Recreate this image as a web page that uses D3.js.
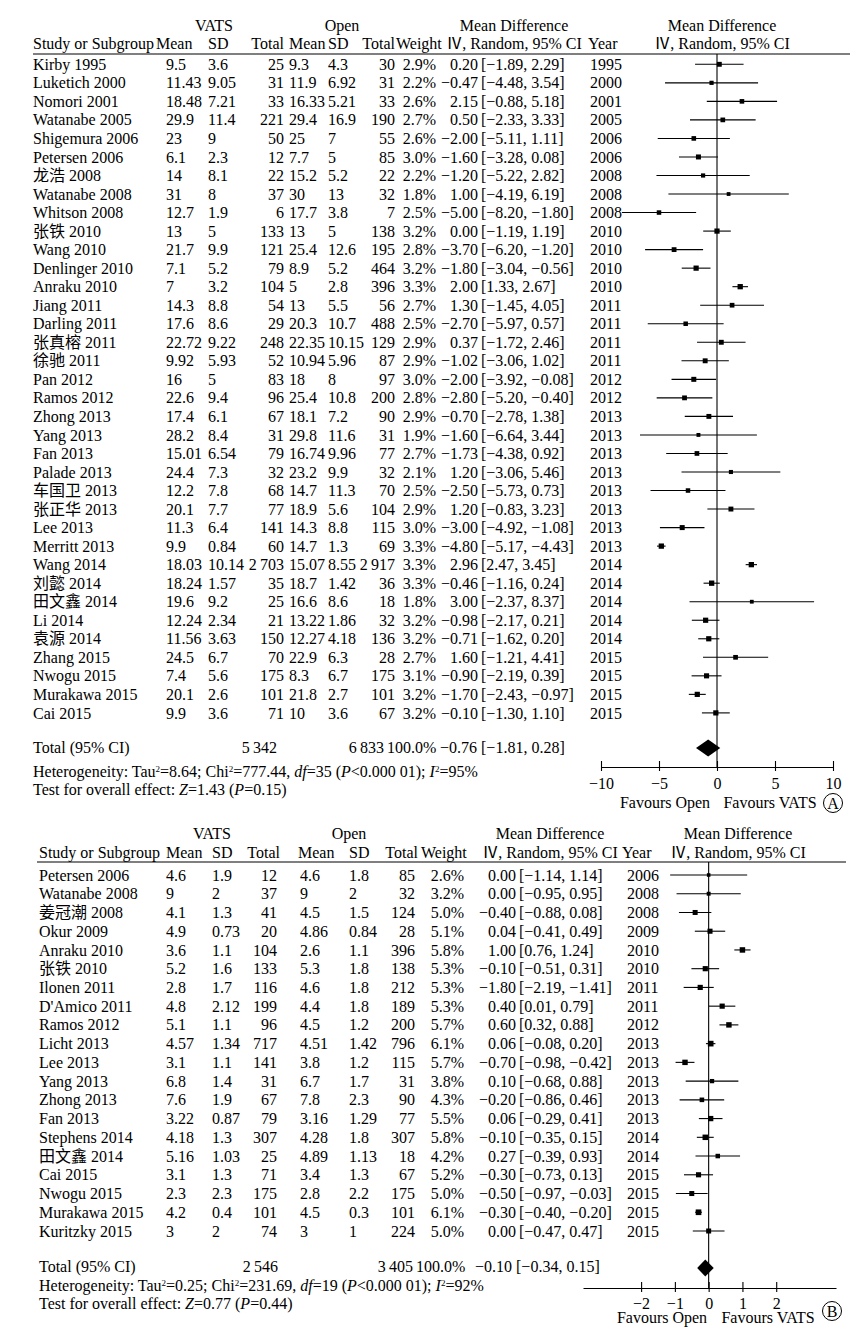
<!DOCTYPE html>
<html><head><meta charset="utf-8">
<script src="https://cdn.jsdelivr.net/npm/d3@7"></script>
<style>
body{margin:0;background:#fff}
text{font-family:"Liberation Serif","Noto Sans CJK SC",serif;font-size:16px;fill:#000}
</style>
</head><body>
<svg id="chart" width="857" height="1338"></svg>
<script>
// ---------------- Panel A data ----------------
const studiesA = ["Kirby 1995","Luketich 2000","Nomori 2001","Watanabe 2005","Shigemura 2006","Petersen 2006","龙浩 2008","Watanabe 2008","Whitson 2008","张铁 2010","Wang 2010","Denlinger 2010","Anraku 2010","Jiang 2011","Darling 2011","张真榕 2011","徐驰 2011","Pan 2012","Ramos 2012","Zhong 2013","Yang 2013","Fan 2013","Palade 2013","车国卫 2013","张正华 2013","Lee 2013","Merritt 2013","Wang 2014","刘懿 2014","田文鑫 2014","Li 2014","袁源 2014","Zhang 2015","Nwogu 2015","Murakawa 2015","Cai 2015"];
const vatsMeanA = [9.5,11.43,18.48,29.9,23,6.1,14,31,12.7,13,21.7,7.1,7,14.3,17.6,22.72,9.92,16,22.6,17.4,28.2,15.01,24.4,12.2,20.1,11.3,9.9,18.03,18.24,19.6,12.24,11.56,24.5,7.4,20.1,9.9];
const vatsSdA = [3.6,9.05,7.21,11.4,9,2.3,8.1,8,1.9,5,9.9,5.2,3.2,8.8,8.6,9.22,5.93,5,9.4,6.1,8.4,6.54,7.3,7.8,7.7,6.4,0.84,10.14,1.57,9.2,2.34,3.63,6.7,5.6,2.6,3.6];
const vatsTotalA = [25,31,33,221,50,12,22,37,6,133,121,79,104,54,29,248,52,83,96,67,31,79,32,68,77,141,60,2703,35,25,21,150,70,175,101,71];
const openMeanA = [9.3,11.9,16.33,29.4,25,7.7,15.2,30,17.7,13,25.4,8.9,5,13,20.3,22.35,10.94,18,25.4,18.1,29.8,16.74,23.2,14.7,18.9,14.3,14.7,15.07,18.7,16.6,13.22,12.27,22.9,8.3,21.8,10];
const openSdA = [4.3,6.92,5.21,16.9,7,5,5.2,13,3.8,5,12.6,5.2,2.8,5.5,10.7,10.15,5.96,8,10.8,7.2,11.6,9.96,9.9,11.3,5.6,8.8,1.3,8.55,1.42,8.6,1.86,4.18,6.3,6.7,2.7,3.6];
const openTotalA = [30,31,33,190,55,85,22,32,7,138,195,464,396,56,488,129,87,97,200,90,31,77,32,70,104,115,69,2917,36,18,32,136,28,175,101,67];
const weightA = [2.9,2.2,2.6,2.7,2.6,3.0,2.2,1.8,2.5,3.2,2.8,3.2,3.3,2.7,2.5,2.9,2.9,3.0,2.8,2.9,1.9,2.7,2.1,2.5,2.9,3.0,3.3,3.3,3.3,1.8,3.2,3.2,2.7,3.1,3.2,3.2];
const mdA = [0.20,-0.47,2.15,0.50,-2.00,-1.60,-1.20,1.00,-5.00,0.00,-3.70,-1.80,2.00,1.30,-2.70,0.37,-1.02,-2.00,-2.80,-0.70,-1.60,-1.73,1.20,-2.50,1.20,-3.00,-4.80,2.96,-0.46,3.00,-0.98,-0.71,1.60,-0.90,-1.70,-0.10];
const loA = [-1.89,-4.48,-0.88,-2.33,-5.11,-3.28,-5.22,-4.19,-8.20,-1.19,-6.20,-3.04,1.33,-1.45,-5.97,-1.72,-3.06,-3.92,-5.20,-2.78,-6.64,-4.38,-3.06,-5.73,-0.83,-4.92,-5.17,2.47,-1.16,-2.37,-2.17,-1.62,-1.21,-2.19,-2.43,-1.30];
const hiA = [2.29,3.54,5.18,3.33,1.11,0.08,2.82,6.19,-1.80,1.19,-1.20,-0.56,2.67,4.05,0.57,2.46,1.02,-0.08,-0.40,1.38,3.44,0.92,5.46,0.73,3.23,-1.08,-4.43,3.45,0.24,8.37,0.21,0.20,4.41,0.39,-0.97,1.10];
const yearA = [1995,2000,2001,2005,2006,2006,2008,2008,2008,2010,2010,2010,2010,2011,2011,2011,2011,2012,2012,2013,2013,2013,2013,2013,2013,2013,2013,2014,2014,2014,2014,2014,2015,2015,2015,2015];
const totalA = {vats:5342, open:6833, weight:100.0, md:-0.76, lo:-1.81, hi:0.28};
const hetA = ["8.64","777.44","35","0.000 01","95"];
const testA = ["1.43","0.15"];
const ticksA = [-10,-5,0,5,10];

// ---------------- Panel B data ----------------
const studiesB = ["Petersen 2006","Watanabe 2008","姜冠潮 2008","Okur 2009","Anraku 2010","张铁 2010","Ilonen 2011","D'Amico 2011","Ramos 2012","Licht 2013","Lee 2013","Yang 2013","Zhong 2013","Fan 2013","Stephens 2014","田文鑫 2014","Cai 2015","Nwogu 2015","Murakawa 2015","Kuritzky 2015"];
const vatsMeanB = [4.6,9,4.1,4.9,3.6,5.2,2.8,4.8,5.1,4.57,3.1,6.8,7.6,3.22,4.18,5.16,3.1,2.3,4.2,3];
const vatsSdB = [1.9,2,1.3,0.73,1.1,1.6,1.7,2.12,1.1,1.34,1.1,1.4,1.9,0.87,1.3,1.03,1.3,2.3,0.4,2];
const vatsTotalB = [12,37,41,20,104,133,116,199,96,717,141,31,67,79,307,25,71,175,101,74];
const openMeanB = [4.6,9,4.5,4.86,2.6,5.3,4.6,4.4,4.5,4.51,3.8,6.7,7.8,3.16,4.28,4.89,3.4,2.8,4.5,3];
const openSdB = [1.8,2,1.5,0.84,1.1,1.8,1.8,1.8,1.2,1.42,1.2,1.7,2.3,1.29,1.8,1.13,1.3,2.2,0.3,1];
const openTotalB = [85,32,124,28,396,138,212,189,200,796,115,31,90,77,307,18,67,175,101,224];
const weightB = [2.6,3.2,5.0,5.1,5.8,5.3,5.3,5.3,5.7,6.1,5.7,3.8,4.3,5.5,5.8,4.2,5.2,5.0,6.1,5.0];
const mdB = [0.00,0.00,-0.40,0.04,1.00,-0.10,-1.80,0.40,0.60,0.06,-0.70,0.10,-0.20,0.06,-0.10,0.27,-0.30,-0.50,-0.30,0.00];
const loB = [-1.14,-0.95,-0.88,-0.41,0.76,-0.51,-2.19,0.01,0.32,-0.08,-0.98,-0.68,-0.86,-0.29,-0.35,-0.39,-0.73,-0.97,-0.40,-0.47];
const hiB = [1.14,0.95,0.08,0.49,1.24,0.31,-1.41,0.79,0.88,0.20,-0.42,0.88,0.46,0.41,0.15,0.93,0.13,-0.03,-0.20,0.47];
// values as drawn in the plot (the Ilonen mark in the picture sits near zero)
const markMdB = [0.00,0.00,-0.40,0.04,1.00,-0.10,-0.25,0.40,0.60,0.06,-0.70,0.10,-0.20,0.06,-0.10,0.27,-0.30,-0.50,-0.30,0.00];
const markLoB = [-1.14,-0.95,-0.88,-0.41,0.76,-0.51,-0.74,0.01,0.32,-0.08,-0.98,-0.68,-0.86,-0.29,-0.35,-0.39,-0.73,-0.97,-0.40,-0.47];
const markHiB = [1.14,0.95,0.08,0.49,1.24,0.31,0.15,0.79,0.88,0.20,-0.42,0.88,0.46,0.41,0.15,0.93,0.13,-0.03,-0.20,0.47];
const yearB = [2006,2008,2008,2009,2010,2010,2011,2011,2012,2013,2013,2013,2013,2013,2014,2014,2015,2015,2015,2015];
const totalB = {vats:2546, open:3405, weight:100.0, md:-0.10, lo:-0.34, hi:0.15};
const hetB = ["0.25","231.69","19","0.000 01","92"];
const testB = ["0.77","0.44"];
const ticksB = [-2,-1,0,1,2];

// ---------------- helpers ----------------
const svg = d3.select("#chart");
const minus = s => s.replace(/-/g, "\u2212");
const f2 = v => minus(v.toFixed(2));
const fTot = v => v >= 1000 ? Math.floor(v / 1000) + "\u2009" + String(v % 1000).padStart(3, "0") : String(v);
const fNum = v => String(v);

function txt(g, x, y, s, anchor) {
  return g.append("text").attr("x", x).attr("y", y).attr("dy", "0.35em")
    .attr("text-anchor", anchor || "start").text(s);
}

function column(g, n, y, x, anchor, fmt) {
  g.selectAll(null).data(d3.range(n)).join("text")
    .attr("x", x).attr("y", i => y(i)).attr("dy", "0.35em")
    .attr("text-anchor", anchor).text(fmt);
}

function statLines(g, x, y1, y2, het, test) {
  const sup = (t, s) => t.append("tspan").attr("baseline-shift", "super").attr("font-size", "9px").text(s);
  const t = g.append("text").attr("x", x).attr("y", y1).attr("dy", "0.35em");
  t.append("tspan").text("Heterogeneity: Tau");
  sup(t, "2");
  t.append("tspan").text("=" + het[0] + "; Chi");
  sup(t, "2");
  t.append("tspan").text("=" + het[1] + ", ");
  t.append("tspan").attr("font-style", "italic").text("df");
  t.append("tspan").text("=" + het[2] + " (");
  t.append("tspan").attr("font-style", "italic").text("P");
  t.append("tspan").text("<" + het[3] + "); ");
  t.append("tspan").attr("font-style", "italic").text("I");
  sup(t, "2");
  t.append("tspan").text("=" + het[4] + "%");
  const u = g.append("text").attr("x", x).attr("y", y2).attr("dy", "0.35em");
  u.append("tspan").text("Test for overall effect: ");
  u.append("tspan").attr("font-style", "italic").text("Z");
  u.append("tspan").text("=" + test[0] + " (");
  u.append("tspan").attr("font-style", "italic").text("P");
  u.append("tspan").text("=" + test[1] + ")");
}

function panel(cfg) {
  const g = svg.append("g");
  const n = cfg.studies.length;
  const y = d3.scaleLinear().domain([0, n - 1]).range([cfg.rowTop, cfg.rowBottom]);
  const x = d3.scaleLinear().domain(cfg.domain).range(cfg.range);
  const c = cfg.cols, h = cfg.head;

  // headers
  txt(g, h.vats, cfg.h1, "VATS", "middle");
  txt(g, h.open, cfg.h1, "Open", "middle");
  txt(g, h.md1, cfg.h1, "Mean Difference", "middle");
  txt(g, h.md2, cfg.h1, "Mean Difference", "middle");
  txt(g, h.study, cfg.h2, "Study or Subgroup");
  txt(g, h.vMean, cfg.h2, "Mean");
  txt(g, h.vSd, cfg.h2, "SD");
  txt(g, h.vTot, cfg.h2, "Total", "end");
  txt(g, h.oMean, cfg.h2, "Mean");
  txt(g, h.oSd, cfg.h2, "SD");
  txt(g, h.oTot, cfg.h2, "Total", "end");
  txt(g, h.weight, cfg.h2, "Weight");
  txt(g, h.md1, cfg.h2, "\u2163, Random, 95% CI", "middle");
  txt(g, h.year, cfg.h2, "Year");
  txt(g, h.md2, cfg.h2, "\u2163, Random, 95% CI", "middle");
  g.append("line").attr("x1", cfg.lineL).attr("x2", cfg.lineR)
    .attr("y1", cfg.hLine).attr("y2", cfg.hLine).attr("stroke", "#000").attr("stroke-width", 1.2);

  // table columns
  column(g, n, y, c.study, "start", i => cfg.studies[i]);
  column(g, n, y, c.vMean, "start", i => fNum(cfg.vMean[i]));
  column(g, n, y, c.vSd, "start", i => fNum(cfg.vSd[i]));
  column(g, n, y, c.vTot, "end", i => fTot(cfg.vTot[i]));
  column(g, n, y, c.oMean, "start", i => fNum(cfg.oMean[i]));
  column(g, n, y, c.oSd, "start", i => fNum(cfg.oSd[i]));
  column(g, n, y, c.oTot, "end", i => fTot(cfg.oTot[i]));
  column(g, n, y, c.weight, "end", i => cfg.weight[i].toFixed(1) + "%");
  column(g, n, y, c.md, "end", i => f2(cfg.md[i]));
  column(g, n, y, c.ci, "start", i => "[" + f2(cfg.lo[i]) + ", " + f2(cfg.hi[i]) + "]");
  column(g, n, y, c.year, "start", i => String(cfg.year[i]));

  // total row
  const T = cfg.total;
  txt(g, c.study, cfg.totY, "Total (95% CI)");
  txt(g, c.tvTot, cfg.totY, fTot(T.vats), "end");
  txt(g, c.toTot, cfg.totY, fTot(T.open), "end");
  txt(g, c.tWeight, cfg.totY, T.weight.toFixed(1) + "%", "start");
  txt(g, c.tMd, cfg.totY, f2(T.md) + " [" + f2(T.lo) + ", " + f2(T.hi) + "]", "start");
  statLines(g, c.study, cfg.hetY, cfg.testY, cfg.het, cfg.test);

  // forest
  g.append("line").attr("x1", x(0)).attr("x2", x(0)).attr("y1", cfg.hLine).attr("y2", cfg.axisY)
    .attr("stroke", "#000").attr("stroke-width", 1.1);
  g.selectAll(null).data(d3.range(n)).join("line")
    .attr("x1", i => x(cfg.mLo[i])).attr("x2", i => x(cfg.mHi[i]))
    .attr("y1", i => y(i)).attr("y2", i => y(i)).attr("stroke", "#000").attr("stroke-width", 1.1);
  g.selectAll(null).data(d3.range(n)).join("rect")
    .attr("x", i => x(cfg.mMd[i]) - cfg.sq(cfg.weight[i]) / 2)
    .attr("y", i => y(i) - cfg.sq(cfg.weight[i]) / 2)
    .attr("width", i => cfg.sq(cfg.weight[i])).attr("height", i => cfg.sq(cfg.weight[i]))
    .attr("fill", "#000");
  // diamond
  const dy = cfg.totDiamY, hh = 8.5;
  g.append("path").attr("d", d3.line()([[x(T.lo), dy], [x(T.md), dy - hh], [x(T.hi), dy], [x(T.md), dy + hh]]) + "Z")
    .attr("fill", "#000");
  // axis
  const ax = d3.axisBottom(x).tickValues(cfg.ticks).tickSize(0).tickPadding(0)
    .tickFormat(d => minus(String(d)));
  const axG = g.append("g").attr("transform", `translate(0,${cfg.axisY})`).call(ax);
  axG.select(".domain").attr("stroke", "#000").attr("stroke-width", 1.2);
  axG.selectAll(".tick line").attr("y1", -6).attr("y2", 4).attr("stroke", "#000").attr("stroke-width", 1.1);
  axG.selectAll(".tick text").attr("y", cfg.tickLabY - cfg.axisY).attr("dy", "0.35em")
    .attr("font-size", "16px").attr("font-family", "Liberation Serif, serif").attr("fill", "#000");
  txt(g, cfg.favOpen, cfg.favY, "Favours Open", "middle");
  txt(g, cfg.favVats, cfg.favY, "Favours VATS", "middle");
  g.append("circle").attr("cx", cfg.circ[0]).attr("cy", cfg.circ[1]).attr("r", 9.5)
    .attr("fill", "none").attr("stroke", "#000").attr("stroke-width", 1);
  txt(g, cfg.circ[0], cfg.circ[1], cfg.label, "middle").attr("font-size", "14px");
}

panel({
  studies: studiesA, vMean: vatsMeanA, vSd: vatsSdA, vTot: vatsTotalA,
  oMean: openMeanA, oSd: openSdA, oTot: openTotalA, weight: weightA,
  md: mdA, lo: loA, hi: hiA, mMd: mdA, mLo: loA, mHi: hiA, year: yearA,
  total: totalA, het: hetA, test: testA, ticks: ticksA, label: "A",
  domain: [-10, 10], range: [601, 833],
  rowTop: 64.3, rowBottom: 712.9,
  h1: 25, h2: 43, hLine: 54, lineL: 33, lineR: 850,
  head: {vats: 214, open: 342, md1: 514, md2: 722, study: 33, vMean: 156, vSd: 208, vTot: 284,
         oMean: 289, oSd: 328, oTot: 395, weight: 396, year: 588},
  cols: {study: 33, vMean: 166, vSd: 208, vTot: 284, oMean: 289, oSd: 328, oTot: 395,
         weight: 436, md: 478, ci: 481, year: 590,
         tvTot: 277, toTot: 384, tWeight: 387, tMd: 440},
  totY: 747, totDiamY: 748, hetY: 771, testY: 789, axisY: 767, tickLabY: 783,
  favY: 802, favOpen: 665, favVats: 770, circ: [833, 803],
  sq: w => 2 + 1.0 * w
});

panel({
  studies: studiesB, vMean: vatsMeanB, vSd: vatsSdB, vTot: vatsTotalB,
  oMean: openMeanB, oSd: openSdB, oTot: openTotalB, weight: weightB,
  md: mdB, lo: loB, hi: hiB, mMd: markMdB, mLo: markLoB, mHi: markHiB, year: yearB,
  total: totalB, het: hetB, test: testB, ticks: ticksB, label: "B",
  domain: [-3.72, 3.77], range: [583, 836],
  rowTop: 875, rowBottom: 1231,
  h1: 833, h2: 852, hLine: 862, lineL: 37, lineR: 846,
  head: {vats: 212, open: 349, md1: 550, md2: 738, study: 39, vMean: 166, vSd: 212, vTot: 280,
         oMean: 298, oSd: 349, oTot: 418, weight: 421, year: 622},
  cols: {study: 39, vMean: 166, vSd: 212, vTot: 277, oMean: 300, oSd: 349, oTot: 415,
         weight: 464, md: 516, ci: 519, year: 627,
         tvTot: 278, toTot: 413, tWeight: 416, tMd: 475},
  totY: 1266, totDiamY: 1268, hetY: 1285, testY: 1303, axisY: 1288, tickLabY: 1303,
  favY: 1317, favOpen: 662, favVats: 768, circ: [832, 1311],
  sq: w => 2 + 0.6 * w
});
</script>
</body></html>
